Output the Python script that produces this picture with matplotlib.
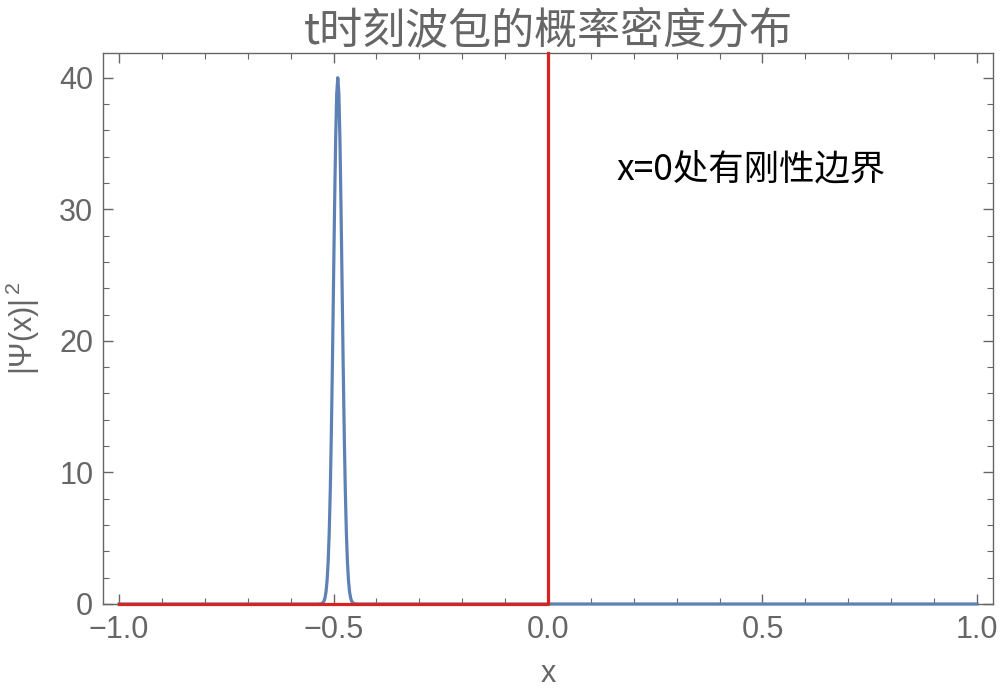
import matplotlib
matplotlib.use("Agg")
import matplotlib.pyplot as plt
from matplotlib.ticker import MultipleLocator

plt.rcParams['font.family'] = ['Liberation Sans', 'Noto Sans CJK SC', 'DejaVu Sans']
plt.rcParams['mathtext.fontset'] = 'custom'
plt.rcParams['mathtext.rm'] = 'Liberation Sans'

# ---- data ----
peak_x = [-1.0, -0.54, -0.53, -0.525, -0.5225, -0.52, -0.5175, -0.515, -0.5125, -0.51,
          -0.5075, -0.505, -0.5025, -0.5, -0.4975, -0.495, -0.4925, -0.49, -0.4875,
          -0.485, -0.4825, -0.48, -0.4775, -0.475, -0.4725, -0.47, -0.4675,
          -0.465, -0.4625, -0.46, -0.4575, -0.455, -0.45, -0.44, 1.0]
peak_y = [0.0, 0.0, 0.01, 0.09, 0.20, 0.44, 0.91, 1.76, 3.18, 5.41,
          8.65, 13.0, 18.3, 24.3, 30.2, 35.3, 38.8, 40.0, 38.8,
          35.3, 30.2, 24.3, 18.3, 13.0, 8.65, 5.41, 3.18,
          1.76, 0.91, 0.44, 0.20, 0.09, 0.01, 0.0, 0.0]

wall_x = [-1.0, 0.0, 0.0]
wall_y = [0.0, 0.0, 41.9]

title = "t时刻波包的概率密度分布"
note = "x=0处有刚性边界"
xlabel = "x"
ylabel = r"|$\Psi$(x)|$^{\,2}$"

gray = "#666666"
blue = "#5E81B5"
red = "#D9231E"

fig = plt.figure(figsize=(10, 6.96), dpi=100)
ax = fig.add_axes([0.103, 0.1322, 0.890, 0.7921])

ax.plot(peak_x, peak_y, color=blue, lw=2.3, solid_joinstyle='round',
        zorder=4, clip_on=False)
ax.plot(wall_x, wall_y, color=red, lw=2.3, zorder=5, clip_on=False)

ax.set_xlim(-1.0373, 1.0373)
ax.set_ylim(0, 41.9)

ax.xaxis.set_major_locator(MultipleLocator(0.5))
ax.xaxis.set_minor_locator(MultipleLocator(0.1))
ax.yaxis.set_major_locator(MultipleLocator(10))
ax.yaxis.set_minor_locator(MultipleLocator(2))
ax.xaxis.set_major_formatter(plt.FuncFormatter(lambda v, p: ("\u2212" if v < -1e-9 else "") + f"{abs(v):.1f}"))
ax.yaxis.set_major_formatter(plt.FuncFormatter(lambda v, p: f"{v:.0f}"))

ax.tick_params(which='both', direction='in', top=True, right=True, colors=gray,
               labelsize=22, labelcolor=gray)
ax.tick_params(which='major', length=7.5, width=1)
ax.tick_params(which='minor', length=4.2, width=0.8)
ax.tick_params(axis='x', pad=8)
ax.tick_params(axis='y', pad=7)
for s in ax.spines.values():
    s.set_color(gray)
    s.set_linewidth(1)

ax.set_xlabel(xlabel, fontsize=22, color=gray, labelpad=10)
ax.set_ylabel(ylabel, fontsize=22, color=gray, labelpad=12)
ax.set_title(title, fontsize=31, color=gray, pad=6,
             family=['Noto Sans CJK SC', 'DejaVu Sans'])
ax.text(0.16, 33.0, note, fontsize=25.5, color='black', va='center', ha='left',
        family=['Noto Sans CJK SC', 'DejaVu Sans'])

fig.savefig("out.png", dpi=100)
